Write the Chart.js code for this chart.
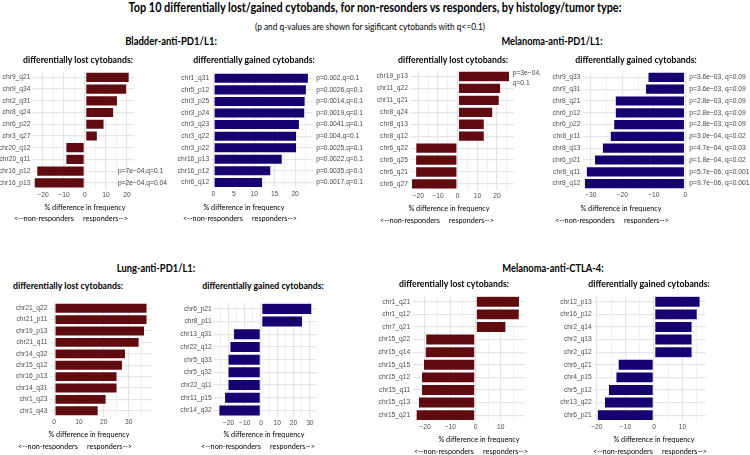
<!DOCTYPE html>
<html>
<head>
<meta charset="utf-8">
<script src="https://cdn.jsdelivr.net/npm/chart.js@4.4.1/dist/chart.umd.min.js"></script>
<style>
html, body { margin: 0; padding: 0; background: #fff; }
#wrap { position: relative; width: 750px; height: 455px; overflow: hidden; font-family: Lato, sans-serif; color: #000; }
#wrap canvas { position: absolute; }
.t { position: absolute; white-space: pre; transform: translate(-50%, -50%) scaleX(0.88); line-height: 1; }
.b { font-weight: 700; }
</style>
</head>
<body>
<div id="wrap"></div>
<script>
// Bladder-anti-PD1/L1
const bladderLostBands = ['chr9_q21', 'chr9_q34', 'chr2_q31', 'chr8_q24', 'chr6_p22', 'chr3_q27', 'chr20_q12', 'chr20_q11', 'chr16_p12', 'chr16_p13'];
const bladderLostDiff = [21.2, 20.0, 15.6, 13.8, 9.2, 6.0, -9.2, -9.2, -23.1, -24.3];
const bladderLostPQ = ['', '', '', '', '', '', '', '', 'p=7e\u221204,q=0.1', 'p=2e\u221204,q=0.04'];

const bladderGainedBands = ['chr1_q31', 'chr5_p12', 'chr3_p25', 'chr3_p24', 'chr3_q23', 'chr3_q22', 'chr3_p22', 'chr16_p13', 'chr16_p12', 'chr6_q12'];
const bladderGainedDiff = [23.3, 22.8, 22.5, 22.4, 21.1, 20.4, 20.4, 16.9, 14.1, 12.1];
const bladderGainedPQ = ['p=0.002,q=0.1', 'p=0.0026,q=0.1', 'p=0.0014,q=0.1', 'p=0.0019,q=0.1', 'p=0.0041,q=0.1',
  'p=0.004,q=0.1', 'p=0.0025,q=0.1', 'p=0.0022,q=0.1', 'p=0.0035,q=0.1', 'p=0.0017,q=0.1'];

// Melanoma-anti-PD1/L1
const melPdLostBands = ['chr19_p13', 'chr11_q22', 'chr11_q21', 'chr8_q24', 'chr8_q13', 'chr8_q12', 'chr6_q22', 'chr6_q25', 'chr6_q21', 'chr6_q27'];
const melPdLostDiff = [26.4, 21.9, 21.2, 17.9, 13.6, 13.6, -21.4, -21.5, -21.5, -23.6];
const melPdLostPQ = ['p=3e\u221204,\nq=0.1', '', '', '', '', '', '', '', '', ''];

const melPdGainedBands = ['chr9_q33', 'chr9_q31', 'chr8_q21', 'chr6_p12', 'chr6_p22', 'chr8_p11', 'chr8_q13', 'chr6_p21', 'chr8_q11', 'chr8_q12'];
const melPdGainedDiff = [-11.9, -12.7, -22.3, -22.3, -22.8, -23.9, -26.4, -28.9, -31.5, -32.1];
const melPdGainedPQ = ['p=3.6e\u221203, q=0.09', 'p=3.6e\u221203, q=0.09', 'p=2.8e\u221203, q=0.09', 'p=2.8e\u221203, q=0.09',
  'p=2.8e\u221203, q=0.09', 'p=3.0e\u221204, q=0.02', 'p=4.7e\u221204, q=0.03', 'p=1.8e\u221204, q=0.02',
  'p=5.7e\u221206, q=0.001', 'p=9.7e\u221206, q=0.001'];

// Lung-anti-PD1/L1
const lungLostBands = ['chr21_q22', 'chr21_p11', 'chr19_p13', 'chr21_q11', 'chr14_q32', 'chr15_q12', 'chr16_p13', 'chr14_q31', 'chr1_q23', 'chr1_q43'];
const lungLostDiff = [37.5, 37.5, 36.5, 34.3, 28.8, 27.6, 25.4, 25.4, 21.0, 17.8];

const lungGainedBands = ['chr6_p21', 'chr8_p11', 'chr13_q31', 'chr22_q12', 'chr5_q33', 'chr5_q32', 'chr22_q11', 'chr11_p15', 'chr14_q32'];
const lungGainedDiff = [31.3, 25.6, -17.0, -19.2, -20.4, -20.4, -20.4, -22.5, -26.0];

// Melanoma-anti-CTLA-4
const melCtlaLostBands = ['chr1_q21', 'chr1_q12', 'chr7_q21', 'chr15_q22', 'chr15_q14', 'chr15_q15', 'chr15_q12', 'chr15_q11', 'chr15_q13', 'chr15_q21'];
const melCtlaLostDiff = [17.5, 17.4, 12.1, -19.8, -20.0, -20.7, -21.5, -21.5, -22.7, -23.6];

const melCtlaGainedBands = ['chr12_p13', 'chr16_p12', 'chr2_q14', 'chr2_q13', 'chr2_q12', 'chr6_q21', 'chr4_p15', 'chr5_p12', 'chr13_q22', 'chr6_p21'];
const melCtlaGainedDiff = [16.2, 15.2, 13.4, 13.4, 13.4, -12.6, -13.4, -16.0, -17.4, -19.9];

const LOST = '#5f0b10';
const GAINED = '#170070';
const GRID = '#e6e6e6';
const TICK = '#4d4d4d';
const TF = {family: '"Liberation Sans", Arial, sans-serif', size: 6.7};

// l/r/t/b = plot area, left/right = canvas extent
const panels = [
  {bands: bladderLostBands, diff: bladderLostDiff, pq: bladderLostPQ, color: LOST,
   l: 33, r: 134, t: 69.9, b: 188.7, min: -24.8, max: 23.4, step: 5, major: 10, left: 0, right: 172, dx: -16},
  {bands: bladderGainedBands, diff: bladderGainedDiff, pq: bladderGainedPQ, color: GAINED,
   l: 211.7, r: 312.7, t: 70.1, b: 188.2, min: -0.4, max: 24.3, step: 2.5, major: 5, left: 172, right: 375, dx: 3.5},
  {bands: melPdLostBands, diff: melPdLostDiff, pq: melPdLostPQ, color: LOST,
   l: 410.5, r: 514, t: 68.6, b: 189.9, min: -24, max: 28.6, step: 5, major: 10, left: 372, right: 560, dx: -1.3},
  {bands: melPdGainedBands, diff: melPdGainedDiff, pq: melPdGainedPQ, color: GAINED,
   l: 583, r: 687, t: 69, b: 189.5, min: -32.5, max: 0.55, step: 5, major: 10, left: 540, right: 750, dx: 2.3},
  {bands: lungLostBands, diff: lungLostDiff, pq: null, color: LOST,
   l: 50, r: 151.7, t: 300.9, b: 416.5, min: -1.7, max: 39.3, step: 5, major: 10, left: 0, right: 170},
  {bands: lungGainedBands, diff: lungGainedDiff, pq: null, color: GAINED,
   l: 214.3, r: 316.7, t: 300.8, b: 416.8, min: -28.7, max: 34.2, step: 5, major: 10, left: 170, right: 340},
  {bands: melCtlaLostBands, diff: melCtlaLostDiff, pq: null, color: LOST,
   l: 412.7, r: 525, t: 293.6, b: 421.4, min: -24.9, max: 19.6, step: 5, major: 10, left: 365, right: 545},
  {bands: melCtlaGainedBands, diff: melCtlaGainedDiff, pq: null, color: GAINED,
   l: 594.3, r: 705.7, t: 293.3, b: 421.4, min: -20.9, max: 18.1, step: 5, major: 10, left: 550, right: 730}
];

// text, x, y, bold, target width
const lostTitle = 'differentially lost cytobands:';
const gainTitle = 'differentially gained cytobands:';
const xTitle = '% difference in frequency';
const dirText = '<--non-responders\u00a0\u00a0\u00a0\u00a0\u00a0responders-->';
const texts = [
  ['Top 10 differentially lost/gained cytobands, for non-resonders vs responders, by histology/tumor type:', 375, 8, true, 493],
  ['(p and q-values are shown for sigificant cytobands with q<=0.1)', 369.5, 27, false, 230],
  ['Bladder-anti-PD1/L1:', 171, 41, true, 91.7],
  ['Melanoma-anti-PD1/L1:', 552, 41, true, 101],
  ['Lung-anti-PD1/L1:', 156, 268, true, 78.3],
  ['Melanoma-anti-CTLA-4:', 553, 268, true, 101.3],
  [lostTitle, 77.7, 60, true, 110], [gainTitle, 253.5, 60, true, 121.5],
  [lostTitle, 453.3, 60, true, 110], [gainTitle, 636, 60, true, 121.5],
  [lostTitle, 68, 285.7, true, 110], [gainTitle, 262.8, 285.7, true, 121.5],
  [lostTitle, 453.8, 284.3, true, 110], [gainTitle, 649, 284.3, true, 121.5],
  [xTitle, 84.7, 206.7, false, 81], [xTitle, 243.8, 206.7, false, 81],
  [xTitle, 449, 208.3, false, 81], [xTitle, 621, 208.3, false, 81],
  [xTitle, 89.2, 434, false, 81], [xTitle, 263.5, 434, false, 81],
  [xTitle, 479.2, 439.3, false, 81], [xTitle, 654.2, 439.3, false, 81],
  [dirText, 71, 218, false, 114], [dirText, 240, 218, false, 114],
  [dirText, 437, 219.5, false, 114], [dirText, 612, 219.5, false, 114],
  [dirText, 75, 446, false, 114], [dirText, 258.3, 446, false, 114],
  [dirText, 471, 450.7, false, 114], [dirText, 649.5, 450.7, false, 114]
];

const pqPlugin = {
  id: 'pq',
  afterDatasetsDraw(chart, args, opts) {
    if (!opts.texts) return;
    const ctx = chart.ctx;
    const area = chart.chartArea;
    ctx.save();
    ctx.font = '6.7px "Liberation Sans", Arial, sans-serif';
    ctx.fillStyle = '#444';
    ctx.textAlign = 'left';
    ctx.textBaseline = 'middle';
    opts.texts.forEach((t, i) => {
      if (!t) return;
      const y = chart.scales.y.getPixelForValue(i);
      const lines = t.split('\n');
      lines.forEach((ln, k) => {
        ctx.fillText(ln, area.right + opts.dx, y + (k - (lines.length - 1) / 2) * 10 + (lines.length > 1 ? 2 : 0));
      });
    });
    ctx.restore();
  }
};

const wrap = document.getElementById('wrap');

function fmt(v) {
  return v < 0 ? '\u2212' + Math.abs(v) : String(v);
}

panels.forEach(p => {
  const top = Math.floor(p.t) - 4;
  const bottom = Math.ceil(p.b) + 14;
  const c = document.createElement('canvas');
  c.width = p.right - p.left;
  c.height = bottom - top;
  c.style.left = p.left + 'px';
  c.style.top = top + 'px';
  wrap.appendChild(c);
  const yw = p.l - p.left;
  const xh = bottom - p.b;
  const isMajor = v => Math.abs(v % p.major) < 1e-6;

  new Chart(c, {
    type: 'bar',
    data: {
      labels: p.bands,
      datasets: [{
        data: p.diff,
        backgroundColor: p.color,
        borderColor: 'rgba(255,255,255,0.5)',
        borderWidth: 0.7,
        borderSkipped: false,
        barPercentage: 0.9,
        categoryPercentage: 1
      }]
    },
    options: {
      indexAxis: 'y',
      responsive: false,
      animation: false,
      devicePixelRatio: 1,
      events: [],
      layout: {padding: {top: p.t - top, right: p.right - p.r, left: 0, bottom: 0}},
      plugins: {
        legend: {display: false},
        tooltip: {enabled: false},
        pq: {texts: p.pq, dx: p.dx}
      },
      scales: {
        x: {
          type: 'linear',
          min: p.min,
          max: p.max,
          afterFit: s => { s.height = xh; },
          border: {display: false},
          grid: {
            color: GRID,
            drawTicks: false,
            lineWidth: ctx => (ctx.tick && isMajor(ctx.tick.value)) ? 1.2 : 0.6
          },
          ticks: {
            stepSize: p.step,
            includeBounds: false,
            autoSkip: false,
            maxRotation: 0,
            padding: 2,
            color: TICK,
            font: TF,
            callback: v => isMajor(v) ? fmt(v) : ''
          }
        },
        y: {
          afterFit: s => { s.width = yw; },
          border: {display: false},
          grid: {offset: false, color: GRID, lineWidth: 1.2, drawTicks: false},
          ticks: {padding: 2.5, color: TICK, font: TF, autoSkip: false}
        }
      }
    },
    plugins: [pqPlugin]
  });
});

const divs = texts.map(([txt, x, y, bold, w]) => {
  const d = document.createElement('div');
  d.className = bold ? 't b' : 't';
  d.textContent = txt;
  d.style.left = x + 'px';
  d.style.top = y + 'px';
  d.style.fontSize = '10px';
  wrap.appendChild(d);
  return [d, w];
});

// scale each text so it spans the same width as in the picture
function fitTexts() {
  divs.forEach(([d, w]) => {
    const cur = d.getBoundingClientRect().width;
    const fs = parseFloat(d.style.fontSize);
    if (cur > 0) d.style.fontSize = (fs * w / cur).toFixed(2) + 'px';
  });
}
fitTexts();
if (document.fonts && document.fonts.ready) document.fonts.ready.then(fitTexts);
</script>
</body>
</html>
